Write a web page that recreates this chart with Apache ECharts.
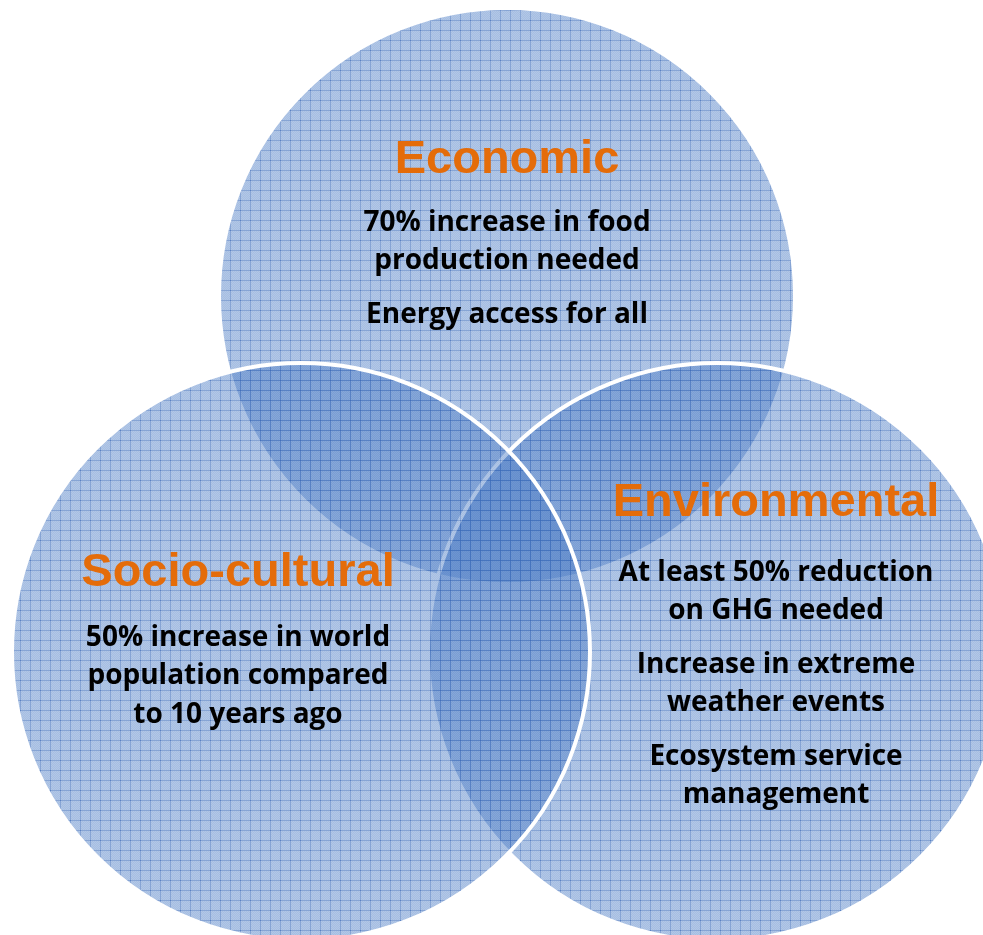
<!DOCTYPE html>
<html><head><meta charset="utf-8">
<script src="https://cdn.jsdelivr.net/npm/echarts@6/dist/echarts.min.js"></script>
<style>html,body{margin:0;padding:0;background:#fff}#chart{width:983px;height:935px}</style>
</head><body><div id="chart"></div>
<script>
// ---- data ----
const sets = ['Economic', 'Socio-cultural', 'Environmental'];
const economicNotes = ['70% increase in food\nproduction needed', 'Energy access for all'];
const socioCulturalNotes = ['50% increase in world\npopulation compared\nto 10 years ago'];
const environmentalNotes = ['At least 50% reduction\non GHG needed', 'Increase in extreme\nweather events', 'Ecosystem service\nmanagement'];
const notesBySet = [economicNotes, socioCulturalNotes, environmentalNotes];

// ---- layout (not data) ----
const VIEW_W = 983, VIEW_H = 935;
const circleLayout = [
  { cx: 507, cy: 296, r: 288 },
  { cx: 301, cy: 652, r: 289 },
  { cx: 717, cy: 652, r: 289 }
];
const drawOrder = [0, 2, 1];
const textLayout = [
  { x: 507, titleY: 160, notesY: 223 },
  { x: 238, titleY: 573, notesY: 638 },
  { x: 776, titleY: 503, notesY: 573 }
];
const LINE_H = 38.5, PARA_GAP = 15;
const TITLE_FONT = 'bold 47px "Liberation Sans", Arial, sans-serif';
const NOTE_FONT = 'bold 28px "Open Sans", Lato, sans-serif';

function makeTile() {
  const c = document.createElement('canvas');
  c.width = 10; c.height = 10;
  const g = c.getContext('2d');
  for (let y = 0; y < 10; y++) {
    for (let x = 0; x < 10; x++) {
      const a = ((x + y) % 2 === 0) ? 0.44 : 0.51;
      g.fillStyle = 'rgba(80,128,198,' + a + ')';
      g.fillRect(x, y, 1, 1);
    }
  }
  g.clearRect(0, 0, 10, 1); g.clearRect(0, 0, 1, 10);
  g.fillStyle = 'rgba(60,108,186,0.62)';
  g.fillRect(0, 0, 10, 1); g.fillRect(0, 0, 1, 10);
  return c;
}
const tile = makeTile();

// label items built from the data arrays + layout
const labelItems = [];
sets.forEach((name, i) => {
  const L = textLayout[i];
  labelItems.push({ text: name, kind: 'title', pos: [L.x, L.titleY] });
  let y = L.notesY;
  notesBySet[i].forEach(para => {
    para.split('\n').forEach(line => {
      labelItems.push({ text: line, kind: 'note', pos: [L.x, y] });
      y += LINE_H;
    });
    y += PARA_GAP;
  });
});

const chart = echarts.init(document.getElementById('chart'), null, { renderer: 'canvas' });
chart.setOption({
  backgroundColor: '#ffffff',
  animation: false,
  grid: { left: 0, right: 0, top: 0, bottom: 0 },
  xAxis: { type: 'value', min: 0, max: VIEW_W, show: false },
  yAxis: { type: 'value', min: 0, max: VIEW_H, inverse: true, show: false },
  series: [
    {
      type: 'custom',
      name: 'sets',
      coordinateSystem: 'cartesian2d',
      silent: true,
      clip: false,
      data: drawOrder.map(i => [circleLayout[i].cx, circleLayout[i].cy, circleLayout[i].r]),
      renderItem: function (params, api) {
        const c = api.coord([api.value(0), api.value(1)]);
        const r = api.size([api.value(2), 0])[0];
        return {
          type: 'circle',
          shape: { cx: c[0], cy: c[1], r: r },
          style: { fill: { image: tile, repeat: 'repeat' }, stroke: '#ffffff', lineWidth: 4 }
        };
      }
    },
    {
      type: 'custom',
      name: 'labels',
      coordinateSystem: 'cartesian2d',
      silent: true,
      clip: false,
      z: 5,
      data: labelItems.map(d => d.pos),
      renderItem: function (params, api) {
        const item = labelItems[params.dataIndex];
        const p = api.coord([api.value(0), api.value(1)]);
        const isTitle = item.kind === 'title';
        return {
          type: 'text',
          x: p[0], y: p[1],
          style: {
            text: item.text,
            font: isTitle ? TITLE_FONT : NOTE_FONT,
            fill: isTitle ? '#E46C0A' : '#000000',
            align: 'center',
            verticalAlign: 'middle'
          }
        };
      }
    }
  ]
});
</script>
</body></html>
